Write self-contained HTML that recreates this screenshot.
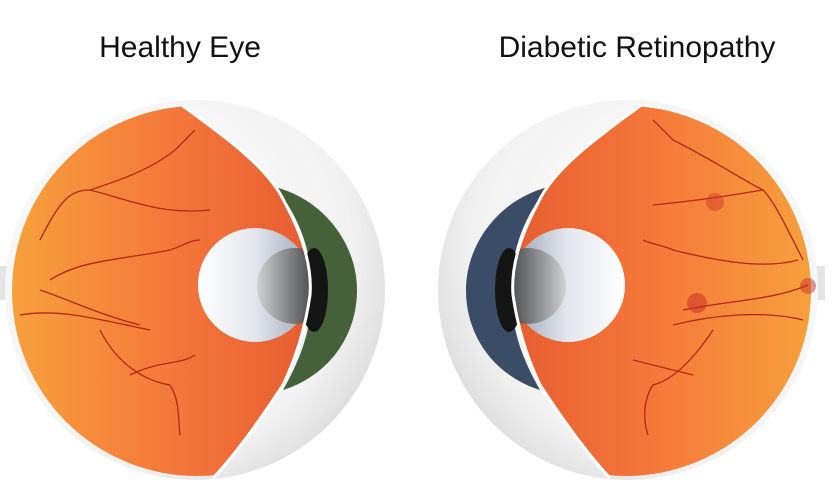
<!DOCTYPE html>
<html><head><meta charset="utf-8"><style>
html,body{margin:0;padding:0;background:#fff;width:837px;height:497px;overflow:hidden}
</style></head><body>
<svg width="837" height="497" viewBox="0 0 837 497" xmlns="http://www.w3.org/2000/svg">
<defs>
<radialGradient id="scl" cx="0.35" cy="0.4" r="0.7">
<stop offset="0" stop-color="#ffffff"/><stop offset="0.8" stop-color="#f2f2f2"/><stop offset="1" stop-color="#dcdcdc"/>
</radialGradient>
<linearGradient id="ora" x1="0" y1="0" x2="1" y2="0">
<stop offset="0" stop-color="#f7a03c"/><stop offset="0.45" stop-color="#f4763a"/><stop offset="1" stop-color="#e0502c"/>
</linearGradient>
<linearGradient id="lens" x1="0" y1="0" x2="1" y2="0">
<stop offset="0" stop-color="#ffffff"/><stop offset="0.5" stop-color="#e3e6ec"/><stop offset="1" stop-color="#9aa3b3"/>
</linearGradient>
<linearGradient id="pup" x1="0" y1="0" x2="1" y2="0">
<stop offset="0" stop-color="#d0d0d0"/><stop offset="0.6" stop-color="#5a5a5a"/><stop offset="1" stop-color="#1a1a1a"/>
</linearGradient>
<clipPath id="sph"><circle cx="197" cy="291" r="185"/></clipPath>
<clipPath id="cutL"><path d="M0,0 L183,0 L183,106 C230,140 270,170 285,203 C305,240 312,270 310,295 C305,330 295,360 283,385 C260,420 235,455 213,478 L213,497 L0,497 Z"/></clipPath>
<g id="eye">
<rect x="-2" y="266" width="14" height="34" fill="#e4e4e4"/>
<circle cx="195" cy="290" r="190" fill="url(#scl)"/>
<path d="M275,187 C325,200 357,245 357,290 C357,335 330,375 283,390 C300,360 312,330 312,290 C312,250 298,215 275,187 Z" fill="var(--iris)"/>
<ellipse cx="314" cy="290" rx="14" ry="42" fill="#151515"/>
<g clip-path="url(#cutL)">
<circle cx="197" cy="291" r="185" fill="url(#ora)"/>
<circle cx="255" cy="285" r="57" fill="url(#lens)"/>
<ellipse cx="295" cy="286" rx="38" ry="38" fill="url(#pup)" opacity="0.9"/>
</g>
<path d="M183,106 C230,140 270,170 285,203 C305,240 312,270 310,295 C305,330 295,360 283,385 C260,420 235,455 213,478" fill="none" stroke="#fff" stroke-width="3"/>
</g>
</defs>
<text x="180" y="57" font-family="Liberation Sans, sans-serif" font-size="30" text-anchor="middle" fill="#111">Healthy Eye</text>
<text x="637" y="57" font-family="Liberation Sans, sans-serif" font-size="30" text-anchor="middle" fill="#111">Diabetic Retinopathy</text>

<g style="--iris:#45613a">
<use href="#eye"/>
<g fill="none" stroke="#b3261c" stroke-width="1.3" clip-path="url(#sph)">
<path d="M40,290 C70,300 100,315 140,325"/>
<path d="M20,315 C60,308 100,320 150,330"/>
<path d="M50,280 C80,260 120,260 170,250 C185,245 190,240 200,240"/>
<path d="M40,240 C60,200 70,190 90,190 C130,200 160,215 210,210"/>
<path d="M90,190 C120,180 150,170 175,150 C185,140 190,135 195,130"/>
<path d="M100,330 C115,360 140,380 170,385 C180,400 178,420 180,435"/>
<path d="M130,375 C160,360 180,365 195,355"/>
</g>
</g>

<g transform="translate(823,0) scale(-1,1)" style="--iris:#3a4c66">
<use href="#eye"/>
<g fill="none" stroke="#b3261c" stroke-width="1.3" clip-path="url(#sph)">
<path d="M15,285 C50,300 90,300 140,310"/>
<path d="M20,320 C60,310 110,315 150,325"/>
<path d="M25,260 C60,270 110,260 150,250 C160,245 170,245 180,240"/>
<path d="M20,260 C40,220 50,200 60,190 C80,180 110,160 150,140 C160,130 165,125 170,120"/>
<path d="M60,190 C90,195 120,200 170,205"/>
<path d="M110,330 C130,360 150,380 170,385 C180,400 180,420 175,435"/>
<path d="M130,375 C150,370 170,365 190,360"/>
</g>
<circle cx="108" cy="202" r="9" fill="#d33a2a" opacity="0.5"/>
<circle cx="126" cy="303" r="10" fill="#c8302a" opacity="0.55"/>
<circle cx="15" cy="286" r="8" fill="#c8302a" opacity="0.5"/>
</g>
</svg>
</body></html>
